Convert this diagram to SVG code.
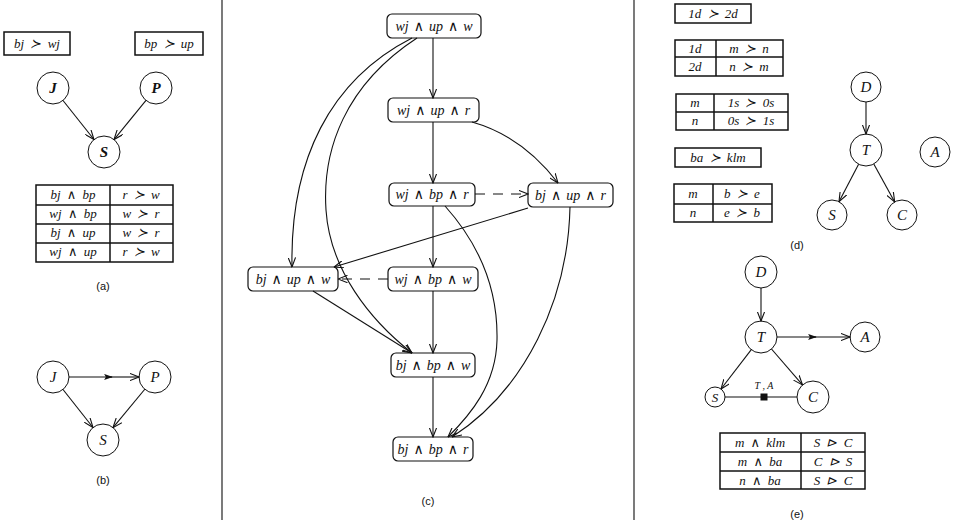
<svg xmlns="http://www.w3.org/2000/svg" width="957" height="520" viewBox="0 0 957 520">
<style>
.bg{fill:#fff}
.m{font-family:"Liberation Serif","DejaVu Serif",serif;font-style:italic;fill:#111;text-anchor:middle}
.t12{font-size:13px;word-spacing:3px}
.t13{font-size:14px;word-spacing:1.5px}
.t15{font-size:15px}
.cap{font-family:"Liberation Sans","DejaVu Sans",sans-serif;font-size:11px;fill:#111;text-anchor:middle}
.box{fill:#fff;stroke:#111;stroke-width:1.5}
.node{fill:#fff;stroke:#111;stroke-width:1.2}
.circ{fill:#fff;stroke:#111;stroke-width:1}
.ln{stroke:#111;stroke-width:1.5;fill:none}
.e{stroke:#111;stroke-width:1.1;fill:none;marker-end:url(#open)}
.d{stroke-dasharray:10 8}
.div{stroke:#222;stroke-width:1.2}
</style>
<defs>
<marker id="open" viewBox="0 0 10 8" refX="9.5" refY="4" markerWidth="10" markerHeight="8" markerUnits="userSpaceOnUse" orient="auto">
<path d="M0,0.3 L9.5,4 L0,7.7" fill="none" stroke="#111" stroke-width="1.1"/>
</marker>
<marker id="fill" viewBox="0 0 10 8" refX="9" refY="4" markerWidth="9" markerHeight="7" markerUnits="userSpaceOnUse" orient="auto">
<path d="M0,0.5 L10,4 L0,7.5 L2,4 z" fill="#111"/>
</marker>
</defs>
<rect class="bg" x="0" y="0" width="957" height="520"/>

<!-- dividers -->
<line class="div" x1="222" y1="0" x2="222" y2="520"/>
<line class="div" x1="634" y1="0" x2="634" y2="520"/>

<!-- ===== Panel (a) ===== -->
<g id="a-box-j"><rect class="box" x="4" y="32" width="66" height="23"/><text class="m t12" x="37" y="48">bj ≻ wj</text></g>
<g id="a-box-p"><rect class="box" x="135" y="32" width="68" height="23"/><text class="m t12" x="169" y="48">bp ≻ up</text></g>
<g id="a-J"><circle class="circ" cx="53" cy="88" r="16"/><text class="m t15" x="53" y="93" font-weight="bold">J</text></g>
<g id="a-P"><circle class="circ" cx="156" cy="88" r="16"/><text class="m t15" x="156" y="93" font-weight="bold">P</text></g>
<g id="a-S"><circle class="circ" cx="104" cy="152" r="16"/><text class="m t15" x="104" y="157" font-weight="bold">S</text></g>
<g id="a-table">
<rect class="box" x="36" y="185" width="137" height="77"/>
<line class="ln" x1="36" y1="205" x2="173" y2="205"/>
<line class="ln" x1="36" y1="224" x2="173" y2="224"/>
<line class="ln" x1="36" y1="243" x2="173" y2="243"/>
<line class="ln" x1="110" y1="185" x2="110" y2="262"/>
<text class="m t12" x="73" y="199">bj ∧ bp</text><text class="m t12" x="141" y="199">r ≻ w</text>
<text class="m t12" x="73" y="218">wj ∧ bp</text><text class="m t12" x="141" y="218">w ≻ r</text>
<text class="m t12" x="73" y="237">bj ∧ up</text><text class="m t12" x="141" y="237">w ≻ r</text>
<text class="m t12" x="73" y="256">wj ∧ up</text><text class="m t12" x="141" y="256">r ≻ w</text>
</g>
<text class="cap" x="103" y="290">(a)</text>

<!-- ===== Panel (b) ===== -->
<g id="b-J"><circle class="circ" cx="53" cy="377" r="16"/><text class="m t15" x="53" y="382">J</text></g>
<g id="b-P"><circle class="circ" cx="155" cy="377" r="16"/><text class="m t15" x="155" y="382">P</text></g>
<g id="b-S"><circle class="circ" cx="103" cy="440" r="16"/><text class="m t15" x="103" y="445">S</text></g>
<text class="cap" x="103" y="484">(b)</text>

<!-- ===== Panel (c) ===== -->
<g id="c-n1"><rect class="node" x="387" y="14" width="94" height="24" rx="5"/><text class="m t13" x="434" y="31">wj ∧ up ∧ w</text></g>
<g id="c-n2"><rect class="node" x="388" y="98" width="91" height="24" rx="5"/><text class="m t13" x="433.5" y="115">wj ∧ up ∧ r</text></g>
<g id="c-n3"><rect class="node" x="389" y="183" width="86" height="23" rx="5"/><text class="m t13" x="432" y="199">wj ∧ bp ∧ r</text></g>
<g id="c-n4"><rect class="node" x="528" y="183" width="85" height="24" rx="5"/><text class="m t13" x="570.5" y="200">bj ∧ up ∧ r</text></g>
<g id="c-n5"><rect class="node" x="248" y="267" width="90" height="24" rx="5"/><text class="m t13" x="293" y="284">bj ∧ up ∧ w</text></g>
<g id="c-n6"><rect class="node" x="388" y="267" width="90" height="24" rx="5"/><text class="m t13" x="433" y="284">wj ∧ bp ∧ w</text></g>
<g id="c-n7"><rect class="node" x="391" y="353" width="84" height="24" rx="5"/><text class="m t13" x="433" y="370">bj ∧ bp ∧ w</text></g>
<g id="c-n8"><rect class="node" x="393" y="437" width="80" height="24" rx="5"/><text class="m t13" x="433" y="454">bj ∧ bp ∧ r</text></g>
<text class="cap" x="428" y="505">(c)</text>

<!-- ===== Panel (d) ===== -->
<g id="d-box1"><rect class="box" x="675" y="4" width="76" height="19"/><text class="m t12" x="713" y="18">1d ≻ 2d</text></g>
<g id="d-table1">
<rect class="box" x="675" y="40" width="108" height="36"/>
<line class="ln" x1="675" y1="57" x2="783" y2="57"/>
<line class="ln" x1="716" y1="40" x2="716" y2="76"/>
<text class="m t12" x="695" y="53">1d</text><text class="m t12" x="749" y="53">m ≻ n</text>
<text class="m t12" x="695" y="71">2d</text><text class="m t12" x="749" y="71">n ≻ m</text>
</g>
<g id="d-table2">
<rect class="box" x="676" y="94" width="112" height="36"/>
<line class="ln" x1="676" y1="112" x2="788" y2="112"/>
<line class="ln" x1="714" y1="94" x2="714" y2="130"/>
<text class="m t12" x="695" y="107">m</text><text class="m t12" x="751" y="107">1s ≻ 0s</text>
<text class="m t12" x="695" y="125">n</text><text class="m t12" x="751" y="125">0s ≻ 1s</text>
</g>
<g id="d-box2"><rect class="box" x="675" y="148" width="86" height="19"/><text class="m t12" x="718" y="162">ba ≻ klm</text></g>
<g id="d-table3">
<rect class="box" x="674" y="184" width="98" height="38"/>
<line class="ln" x1="674" y1="204" x2="772" y2="204"/>
<line class="ln" x1="713" y1="184" x2="713" y2="222"/>
<text class="m t12" x="693" y="198">m</text><text class="m t12" x="742" y="198">b ≻ e</text>
<text class="m t12" x="693" y="217">n</text><text class="m t12" x="742" y="217">e ≻ b</text>
</g>
<g id="d-D"><circle class="circ" cx="866" cy="87" r="15"/><text class="m t15" x="866" y="92">D</text></g>
<g id="d-T"><circle class="circ" cx="866" cy="150" r="16"/><text class="m t15" x="866" y="155">T</text></g>
<g id="d-A"><circle class="circ" cx="935" cy="152" r="15"/><text class="m t15" x="935" y="157">A</text></g>
<g id="d-S"><circle class="circ" cx="832" cy="215" r="15"/><text class="m t15" x="832" y="220">S</text></g>
<g id="d-C"><circle class="circ" cx="902" cy="215" r="15"/><text class="m t15" x="902" y="220">C</text></g>
<text class="cap" x="797" y="249">(d)</text>

<!-- ===== Panel (e) ===== -->
<g id="e-D"><circle class="circ" cx="761" cy="272" r="16"/><text class="m t15" x="761" y="277">D</text></g>
<g id="e-T"><circle class="circ" cx="761" cy="337" r="16"/><text class="m t15" x="761" y="342">T</text></g>
<g id="e-A"><circle class="circ" cx="865" cy="337" r="15"/><text class="m t15" x="865" y="342">A</text></g>
<g id="e-S"><circle class="circ" cx="715" cy="397" r="10"/><text class="m" font-size="13" x="715" y="401.5">S</text></g>
<g id="e-C"><circle class="circ" cx="813" cy="397" r="16"/><text class="m t15" x="813" y="402">C</text></g>
<g id="e-table">
<rect class="box" x="720" y="433" width="145" height="56"/>
<line class="ln" x1="720" y1="452" x2="865" y2="452"/>
<line class="ln" x1="720" y1="471" x2="865" y2="471"/>
<line class="ln" x1="801" y1="433" x2="801" y2="489"/>
<text class="m t12" x="760" y="447">m ∧ klm</text><text class="m t12" x="833" y="447">S ⊳ C</text>
<text class="m t12" x="760" y="466">m ∧ ba</text><text class="m t12" x="833" y="466">C ⊳ S</text>
<text class="m t12" x="760" y="485">n ∧ ba</text><text class="m t12" x="833" y="485">S ⊳ C</text>
</g>
<text class="cap" x="797" y="518">(e)</text>

<!-- ===== Connectors ===== -->
<g id="connectors">
<!-- (a) -->
<line class="e" x1="63" y1="100.5" x2="94" y2="139.5"/>
<line class="e" x1="146" y1="100.4" x2="114" y2="139.6"/>
<!-- (b) -->
<line x1="69" y1="377" x2="112" y2="377" stroke="#111" stroke-width="1.1" marker-end="url(#fill)"/>
<line class="e" x1="110" y1="377" x2="139" y2="377"/>
<line class="e" x1="63" y1="389.5" x2="93" y2="427.5"/>
<line class="e" x1="145" y1="389" x2="113" y2="427.7"/>
<!-- (c) -->
<path class="e" d="M433,38 L433,98"/>
<path class="e" d="M433,122 L433,183"/>
<path class="e" d="M472,122 Q522,136 558,183"/>
<path class="e d" d="M475,194 L528,194"/>
<path class="e" d="M433,206 L433,267"/>
<path class="e d" d="M388,279 L338,279"/>
<path class="e" d="M528,208 L334,267"/>
<path class="e" d="M412,38 C330,80 290,160 292,267"/>
<path class="e" d="M417,38 C345,85 322,150 326,210 C330,270 370,320 412,353"/>
<path class="e" d="M313,291 L412,353"/>
<path class="e" d="M433,291 L433,353"/>
<path class="e" d="M433,377 L433,437"/>
<path class="e" d="M445,206 C480,245 498,290 497,340 C496,385 470,415 448,437"/>
<path class="e" d="M570,207 C568,300 525,390 452,437"/>
<!-- (d) -->
<line class="e" x1="866" y1="102" x2="866" y2="134"/>
<line class="e" x1="858.6" y1="164.2" x2="839" y2="201.7"/>
<line class="e" x1="873.8" y1="164" x2="894.7" y2="201.9"/>
<!-- (e) -->
<line class="e" x1="761" y1="288" x2="761" y2="321"/>
<line x1="777" y1="337" x2="816" y2="337" stroke="#111" stroke-width="1.1" marker-end="url(#fill)"/>
<line class="e" x1="814" y1="337" x2="850" y2="337"/>
<line class="e" x1="751.3" y1="349.7" x2="721" y2="389"/>
<line class="e" x1="771.5" y1="349" x2="802.5" y2="384.9"/>
<line x1="725" y1="397" x2="797" y2="397" stroke="#111" stroke-width="1.1"/>
<rect x="760.5" y="393.5" width="7" height="7" fill="#111"/>
<text class="m" x="764" y="389" font-size="10">T , A</text>
</g>
</svg>
